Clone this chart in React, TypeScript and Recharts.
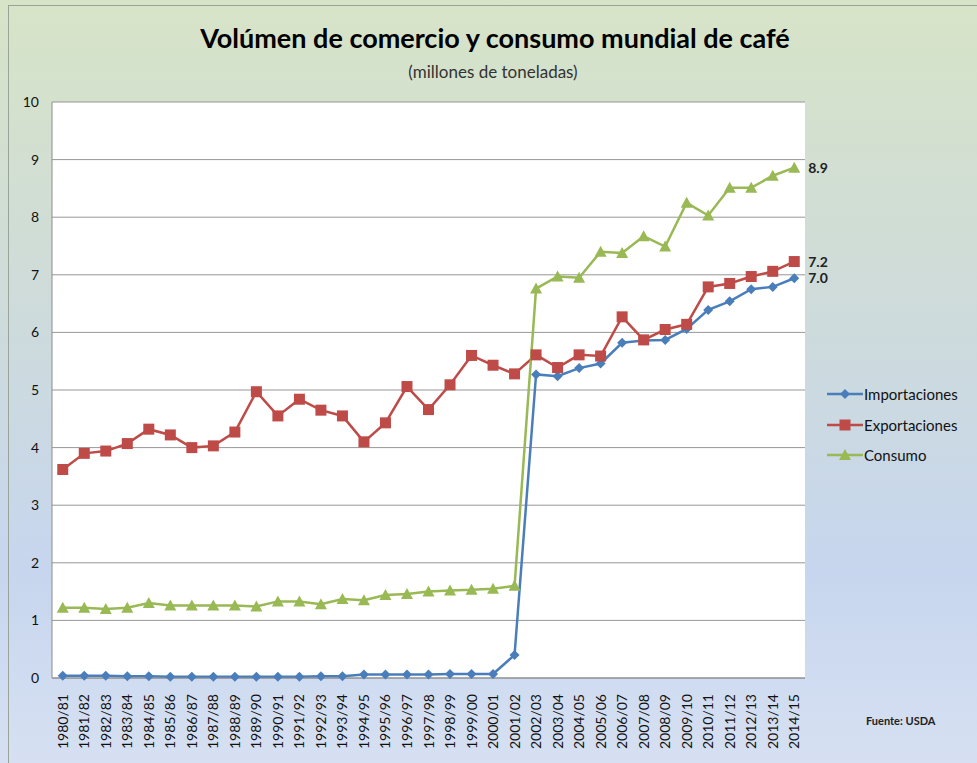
import { LineChart, Line, XAxis, YAxis, CartesianGrid, Legend } from "recharts"

// campañas cafeteras
const years = [
  "1980/81", "1981/82", "1982/83", "1983/84", "1984/85", "1985/86", "1986/87",
  "1987/88", "1988/89", "1989/90", "1990/91", "1991/92", "1992/93", "1993/94",
  "1994/95", "1995/96", "1996/97", "1997/98", "1998/99", "1999/00", "2000/01",
  "2001/02", "2002/03", "2003/04", "2004/05", "2005/06", "2006/07", "2007/08",
  "2008/09", "2009/10", "2010/11", "2011/12", "2012/13", "2013/14", "2014/15",
]

const importaciones = [
  0.04, 0.04, 0.04, 0.03, 0.03, 0.02, 0.02, 0.02, 0.02, 0.02, 0.02, 0.02, 0.03, 0.03,
  0.06, 0.06, 0.06, 0.06, 0.07, 0.07, 0.07, 0.4, 5.27, 5.24, 5.38, 5.46, 5.82, 5.86,
  5.87, 6.06, 6.39, 6.54, 6.75, 6.79, 6.94,
]

const exportaciones = [
  3.62, 3.9, 3.94, 4.07, 4.32, 4.22, 4.0, 4.03, 4.27, 4.97, 4.55, 4.84, 4.65, 4.55,
  4.1, 4.43, 5.06, 4.66, 5.09, 5.6, 5.43, 5.28, 5.61, 5.39, 5.61, 5.59, 6.27, 5.87,
  6.05, 6.14, 6.79, 6.85, 6.97, 7.06, 7.23,
]

const consumo = [
  1.22, 1.22, 1.2, 1.22, 1.3, 1.26, 1.26, 1.26, 1.26, 1.24, 1.33, 1.33, 1.28, 1.37,
  1.35, 1.44, 1.46, 1.5, 1.52, 1.53, 1.55, 1.6, 6.76, 6.97, 6.95, 7.4, 7.38, 7.67,
  7.49, 8.25, 8.03, 8.51, 8.51, 8.72, 8.86,
]

const yTicks = [0, 1, 2, 3, 4, 5, 6, 7, 8, 9, 10]

const data = years.map((y, i) => ({
  year: y,
  importaciones: importaciones[i],
  exportaciones: exportaciones[i],
  consumo: consumo[i],
}))

const BLUE = "#4a7ebb"
const RED = "#be4b48"
const GREEN = "#98b954"
const FONT = "Lato, 'Open Sans', sans-serif"

const Diamond = (props: any) => {
  const { cx, cy, fill } = props
  if (cx == null || cy == null) return null
  return <path d={`M${cx},${cy - 5} L${cx + 5},${cy} L${cx},${cy + 5} L${cx - 5},${cy} Z`} fill={fill} />
}

const Square = (props: any) => {
  const { cx, cy, fill } = props
  if (cx == null || cy == null) return null
  return <rect x={cx - 5.5} y={cy - 5.5} width={11} height={11} fill={fill} />
}

const Triangle = (props: any) => {
  const { cx, cy, fill } = props
  if (cx == null || cy == null) return null
  return <path d={`M${cx},${cy - 6} L${cx + 6},${cy + 5} L${cx - 6},${cy + 5} Z`} fill={fill} />
}

// only the last point gets a label, like in the original
const lastLabel = (text: string) => (props: any) => {
  const { x, y, index } = props
  if (index !== years.length - 1) return null
  return (
    <text x={x + 14} y={y + 5} fontFamily={FONT} fontSize={14} fontWeight="bold" fill="#222">
      {text}
    </text>
  )
}

const YearTick = (props: any) => {
  const { x, y, payload } = props
  return (
    <text
      x={x + 5}
      y={y + 8}
      transform={`rotate(-90, ${x + 5}, ${y + 8})`}
      textAnchor="end"
      fontFamily={FONT}
      fontSize={14}
      fill="#111"
    >
      {payload.value}
    </text>
  )
}

const legendItems = [
  { name: "Importaciones", color: BLUE, Marker: Diamond },
  { name: "Exportaciones", color: RED, Marker: Square },
  { name: "Consumo", color: GREEN, Marker: Triangle },
]

const LegendBox = () => (
  <div>
    {legendItems.map(({ name, color, Marker }) => (
      <div key={name} style={{ display: "flex", alignItems: "center", height: 30.5 }}>
        <svg width={36} height={14}>
          <line x1={0} y1={7} x2={36} y2={7} stroke={color} strokeWidth={2.5} />
          <Marker cx={18} cy={7} fill={color} />
        </svg>
        <span style={{ fontFamily: FONT, fontSize: 15, color: "#111", marginLeft: 1 }}>{name}</span>
      </div>
    ))}
  </div>
)

export default function App() {
  return (
    <div
      style={{
        position: "absolute",
        left: 0,
        top: 0,
        width: 977,
        height: 763,
        background: "linear-gradient(to bottom, #d7e4c7 0%, #cfdcd8 35%, #c7d6ee 75%, #d6e0f2 100%)",
      }}
    >
      <div
        style={{
          position: "absolute",
          left: 8,
          top: 5,
          width: 969,
          height: 758,
          borderLeft: "1px solid #9aa39a",
          borderTop: "1px solid #9aa39a",
        }}
      />
      <div
        style={{
          position: "absolute",
          top: 21,
          left: 0,
          width: 990,
          textAlign: "center",
          fontFamily: FONT,
          fontSize: 27,
          fontWeight: "bold",
          color: "#000",
        }}
      >
        Volúmen de comercio y consumo mundial de café
      </div>
      <div
        style={{
          position: "absolute",
          top: 61,
          left: 0,
          width: 986,
          textAlign: "center",
          fontFamily: FONT,
          fontSize: 17,
          color: "#333",
        }}
      >
        (millones de toneladas)
      </div>
      <div
        style={{
          position: "absolute",
          top: 714,
          left: 866,
          fontFamily: FONT,
          fontSize: 11,
          fontWeight: "bold",
          color: "#222",
        }}
      >
        Fuente: USDA
      </div>
      <LineChart
        width={977}
        height={763}
        data={data}
        margin={{ top: 102, right: 172, left: 12, bottom: 0 }}
      >
        <CartesianGrid vertical={false} stroke="#8c8c8c" fill="#ffffff" strokeOpacity={0.9} />
        <XAxis
          dataKey="year"
          interval={0}
          height={85}
          padding={{ left: 10.75, right: 10.75 }}
          axisLine={{ stroke: "#8c8c8c" }}
          tickLine={false}
          tick={<YearTick />}
        />
        <YAxis
          width={40}
          domain={[0, 10]}
          ticks={yTicks}
          axisLine={{ stroke: "#8c8c8c" }}
          tickLine={false}
          tickMargin={7}
          tick={{ fontFamily: FONT, fontSize: 14, fill: "#111" }}
        />
        <Legend
          layout="horizontal"
          verticalAlign="middle"
          align="center"
          wrapperStyle={{ top: 379, left: 827, width: 150 }}
          content={() => <LegendBox />}
        />
        <Line
          dataKey="importaciones"
          stroke={BLUE}
          strokeWidth={2.5}
          dot={<Diamond fill={BLUE} />}
          activeDot={false}
          label={lastLabel("7.0")}
          isAnimationActive={false}
        />
        <Line
          dataKey="exportaciones"
          stroke={RED}
          strokeWidth={2.5}
          dot={<Square fill={RED} />}
          activeDot={false}
          label={lastLabel("7.2")}
          isAnimationActive={false}
        />
        <Line
          dataKey="consumo"
          stroke={GREEN}
          strokeWidth={2.5}
          dot={<Triangle fill={GREEN} />}
          activeDot={false}
          label={lastLabel("8.9")}
          isAnimationActive={false}
        />
      </LineChart>
    </div>
  )
}
